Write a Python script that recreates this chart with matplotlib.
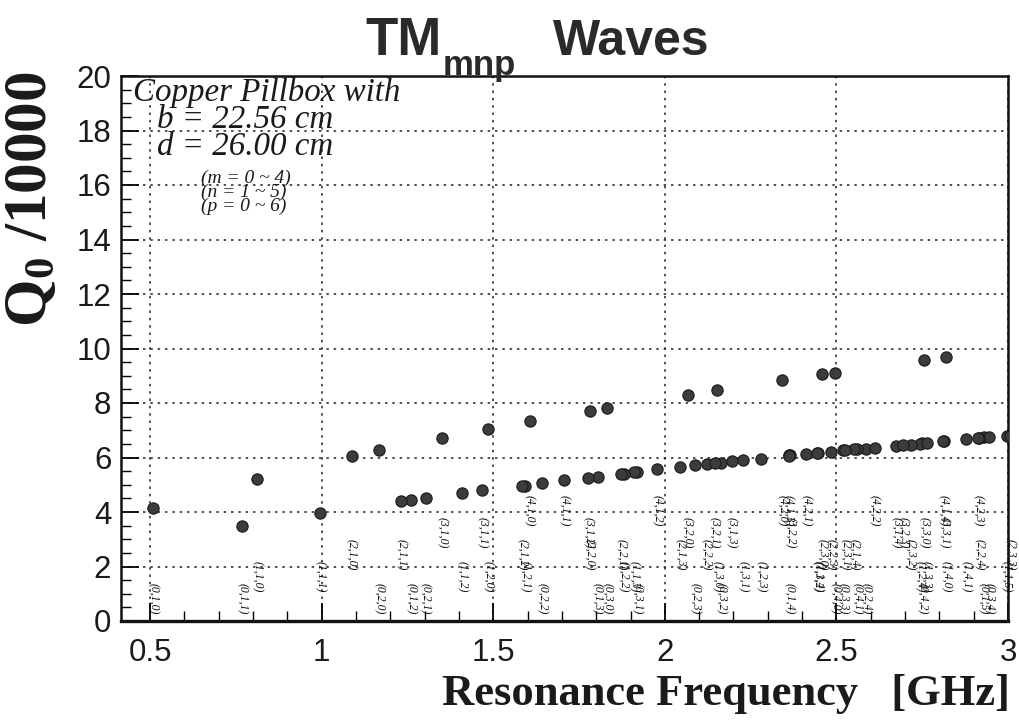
import matplotlib
matplotlib.use("Agg")
import matplotlib.pyplot as plt
from matplotlib.ticker import MultipleLocator, FixedLocator

plt.rcParams['mathtext.fontset'] = 'custom'
plt.rcParams['mathtext.rm'] = 'Liberation Serif'
plt.rcParams['mathtext.it'] = 'Liberation Serif:italic'
plt.rcParams['mathtext.bf'] = 'Liberation Serif:bold'

# ---- data: TM_mnp modes (m, n, p), resonance frequency [GHz], Q0/10000 ----
mode_m = [0, 0, 0, 0, 0, 0, 0, 0, 0, 0, 0, 0, 0, 0, 0, 0, 0, 0, 0,
          1, 1, 1, 1, 1, 1, 1, 1, 1, 1, 1, 1, 1, 1, 1, 1, 1,
          2, 2, 2, 2, 2, 2, 2, 2, 2, 2, 2, 2, 2, 2,
          3, 3, 3, 3, 3, 3, 3, 3, 3, 3, 3,
          4, 4, 4, 4, 4, 4, 4, 4, 4]
mode_n = [1, 1, 1, 1, 1, 1, 2, 2, 2, 2, 2, 3, 3, 3, 3, 3, 4, 4, 4,
          1, 1, 1, 1, 1, 1, 2, 2, 2, 2, 2, 3, 3, 3, 3, 4, 4,
          1, 1, 1, 1, 1, 2, 2, 2, 2, 2, 3, 3, 3, 3,
          1, 1, 1, 1, 1, 2, 2, 2, 2, 3, 3,
          1, 1, 1, 1, 1, 2, 2, 2, 2]
mode_p = [0, 1, 2, 3, 4, 5, 0, 1, 2, 3, 4, 0, 1, 2, 3, 4, 0, 1, 2,
          0, 1, 2, 3, 4, 5, 0, 1, 2, 3, 4, 0, 1, 2, 3, 0, 1,
          0, 1, 2, 3, 4, 0, 1, 2, 3, 4, 0, 1, 2, 3,
          0, 1, 2, 3, 4, 0, 1, 2, 3, 0, 1,
          0, 1, 2, 3, 4, 0, 1, 2, 3]
freq_ghz = [0.509, 0.769, 1.261, 1.804, 2.363, 2.929, 1.168, 1.303, 1.642, 2.088, 2.587,
            1.8315, 1.920, 2.165, 2.520, 2.946, 2.4956, 2.561, 2.749,
            0.811, 0.995, 1.410, 1.911, 2.446, 2.996, 1.485, 1.593, 1.880, 2.280, 2.744,
            2.153, 2.229, 2.443, 2.763, 2.820, 2.878,
            1.087, 1.2305, 1.585, 2.044, 2.551, 1.781, 1.8725, 2.122, 2.484, 2.915,
            2.459, 2.526, 2.716, 3.007,
            1.350, 1.468, 1.776, 2.195, 2.674, 2.066, 2.145, 2.366, 2.695, 2.7546, 2.814,
            1.606, 1.7065, 1.9775, 2.361, 2.8115, 2.342, 2.412, 2.611, 2.912]
q0_1e4 = [4.15, 3.48, 4.44, 5.30, 6.08, 6.74, 6.26, 4.52, 5.05, 5.71, 6.33,
          7.81, 5.46, 5.81, 6.27, 6.75, 9.11, 6.31, 6.52,
          5.22, 3.96, 4.69, 5.46, 6.16, 6.79, 7.06, 4.96, 5.40, 5.96, 6.49,
          8.48, 5.90, 6.16, 6.52, 9.68, 6.67,
          6.05, 4.40, 4.96, 5.65, 6.30, 7.72, 5.40, 5.75, 6.19, 6.72,
          9.06, 6.27, 6.47, 6.80,
          6.72, 4.81, 5.26, 5.86, 6.44, 8.31, 5.78, 6.09, 6.46, 9.57, 6.60,
          7.34, 5.17, 5.56, 6.07, 6.60, 8.84, 6.12, 6.35, 6.72]

x_ticks = [0.5, 1, 1.5, 2, 2.5, 3]
x_ticklabels = ["0.5", "1", "1.5", "2", "2.5", "3"]
y_ticks = [0, 2, 4, 6, 8, 10, 12, 14, 16, 18, 20]

W, H = 1019, 720
fig = plt.figure(figsize=(W / 100, H / 100), dpi=100)
ax = fig.add_axes([121 / W, 1 - 621 / H, 887 / W, 545 / H])

ax.set_xlim(0.415, 3.0)
ax.set_ylim(0, 20)

ax.scatter(freq_ghz, q0_1e4, s=66, color='#3c3c3c', edgecolors='#1a1a1a',
           linewidths=0.8, zorder=3)

for m, n, p, f in zip(mode_m, mode_n, mode_p, freq_ghz):
    ax.text(f, 1.38 + 0.81 * m, f"({m},{n},{p})", rotation=270, ha='center', va='top',
            fontsize=8.5, family='Liberation Serif', style='italic', color='#111111',
            zorder=4)

# axes styling
ax.xaxis.set_major_locator(FixedLocator(x_ticks))
ax.set_xticklabels(x_ticklabels)
ax.xaxis.set_minor_locator(MultipleLocator(0.1))
ax.yaxis.set_major_locator(FixedLocator(y_ticks))
ax.yaxis.set_minor_locator(MultipleLocator(0.5))
ax.tick_params(which='both', direction='in', top=False, right=False)
ax.tick_params(which='major', length=13, width=1.3)
ax.tick_params(which='minor', length=7, width=1.0)
ax.tick_params(axis='x', which='major', pad=12)
ax.tick_params(axis='y', which='major', pad=7)
for lab in ax.get_xticklabels() + ax.get_yticklabels():
    lab.set_family('Liberation Sans')
    lab.set_fontsize(22.5)
    lab.set_color('#1a1a1a')
for s in ax.spines.values():
    s.set_linewidth(1.8)
    s.set_color('#111111')
ax.spines['bottom'].set_linewidth(2.4)

ax.grid(True, which='major', linestyle=(0, (1.6, 3.2)), linewidth=1.1, color='#222222')
ax.set_axisbelow(True)

# title
fig.text(442 / W, 1 - 55 / H, "TM", ha='right', va='baseline', fontsize=38,
         family='Liberation Sans', weight='bold', color='#2a2a2a')
fig.text(443 / W, 1 - 75 / H, "mnp", ha='left', va='baseline', fontsize=25,
         family='Liberation Sans', weight='bold', color='#2a2a2a')
fig.text(553 / W, 1 - 55 / H, "Waves", ha='left', va='baseline', fontsize=36,
         family='Liberation Sans', weight='bold', color='#2a2a2a')

# axis labels
fig.text(31 / W, 1 - 199 / H, r"Q$_{\mathbf{0}}$ /10000", rotation=90, ha='center', va='center',
         fontsize=44, family='Liberation Serif', weight='bold', color='#1a1a1a')
fig.text(1010 / W, 1 - 705 / H, "Resonance Frequency   [GHz]", ha='right', va='baseline',
         fontsize=32, family='Liberation Serif', weight='bold', color='#1a1a1a')

# annotation
fig.text(133 / W, 1 - 101 / H, "Copper Pillbox with", ha='left', va='baseline',
         fontsize=23.8, family='Liberation Serif', style='italic', color='#1a1a1a')
fig.text(157 / W, 1 - 128 / H, "b = 22.56 cm", ha='left', va='baseline',
         fontsize=23.8, family='Liberation Serif', style='italic', color='#1a1a1a')
fig.text(157 / W, 1 - 155 / H, "d = 26.00 cm", ha='left', va='baseline',
         fontsize=23.8, family='Liberation Serif', style='italic', color='#1a1a1a')
for txt, yb in [("(m = 0 ~ 4)", 183), ("(n = 1 ~ 5)", 197), ("(p = 0 ~ 6)", 211)]:
    fig.text(201 / W, 1 - yb / H, txt, ha='left', va='baseline', fontsize=14,
             family='Liberation Serif', style='italic', color='#1a1a1a')

fig.savefig("out.png", dpi=100)
